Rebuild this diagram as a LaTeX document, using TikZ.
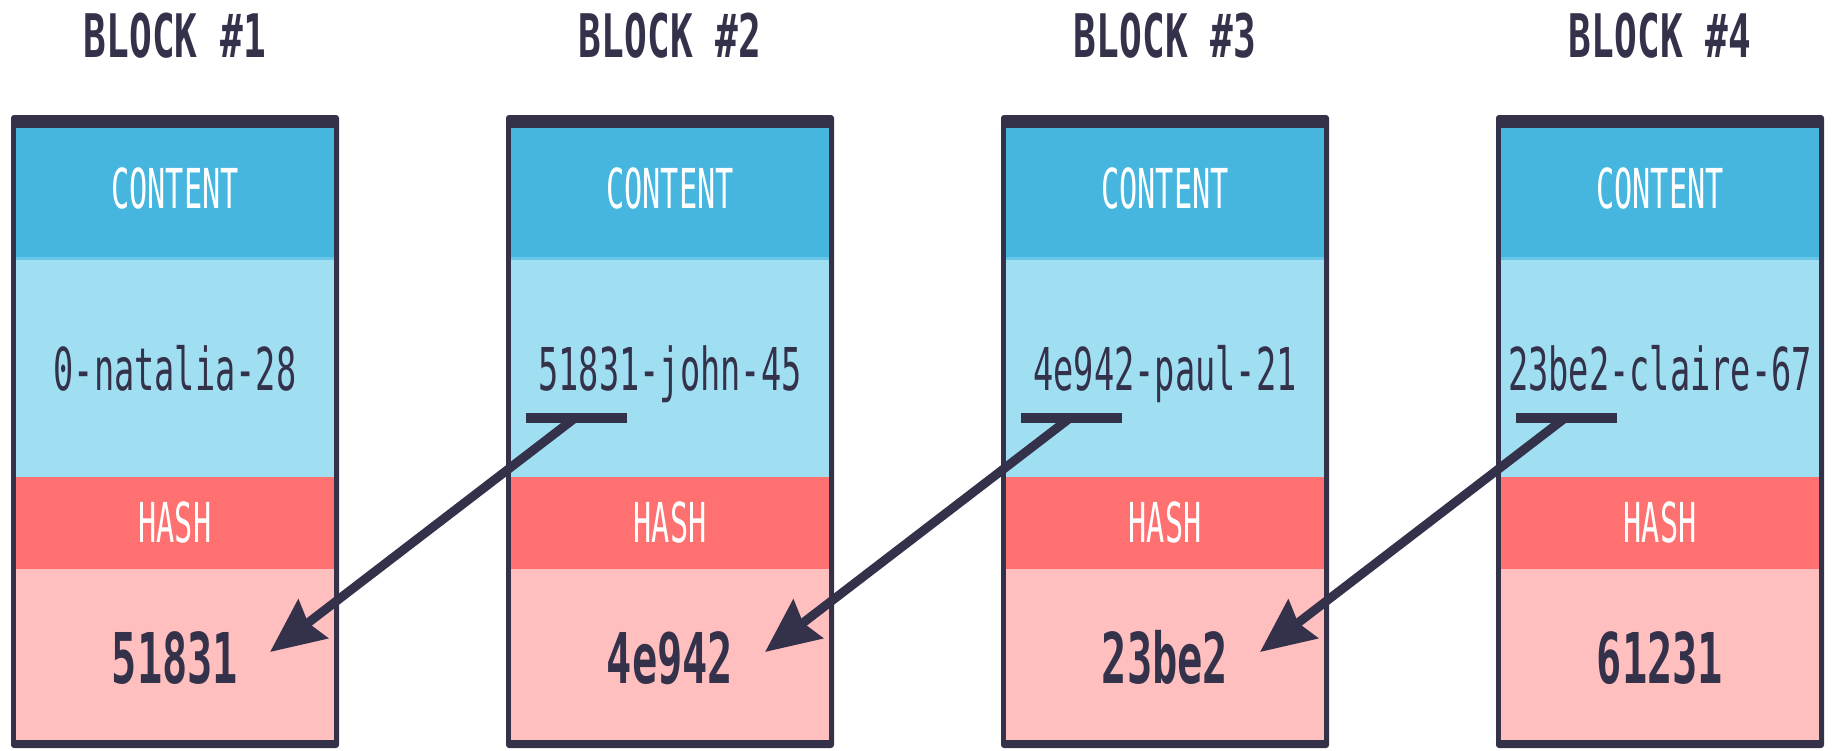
\documentclass[tikz,border=0pt]{standalone}
\usepackage{fontspec}
\usepackage{xcolor}
\usepackage{tikz}
\usetikzlibrary{positioning, arrows.meta}

\newfontfamily\titlefont[FakeStretch=0.63]{DejaVu Sans Mono}
\newfontfamily\datafont[FakeStretch=0.57]{DejaVu Sans Mono}
\newfontfamily\labelfont[FakeStretch=0.55]{DejaVu Sans Mono}
\newfontfamily\hashfont[FakeStretch=0.6]{DejaVu Sans Mono}

\definecolor{navy}{RGB}{52,49,74}
\definecolor{headblue}{RGB}{71,182,223}
\definecolor{stripeblue}{RGB}{104,198,232}
\definecolor{lightblue}{RGB}{160,223,242}
\definecolor{hashred}{RGB}{255,112,112}
\definecolor{hashpink}{RGB}{255,191,191}

\begin{document}
\begin{tikzpicture}[x=1pt, y=-1pt,
    blockframe/.style={fill=navy, rounded corners=3pt, minimum width=328pt, minimum height=633pt, inner sep=0pt, outer sep=0pt, anchor=north},
    cell/.style={minimum width=318pt, inner sep=0pt, outer sep=0pt, anchor=north},
    blocktitle/.style={anchor=base, text=navy, font=\titlefont\bfseries\fontsize{60}{60}\selectfont},
    labeltext/.style={anchor=base, text=white, font=\labelfont\fontsize{55}{55}\selectfont},
    datatext/.style={anchor=base, text=navy, font=\datafont\fontsize{59}{59}\selectfont},
    hashtext/.style={anchor=base, text=navy, font=\hashfont\bfseries\fontsize{70}{70}\selectfont},
    pointerbar/.style={navy, line width=10pt},
    pointer/.style={navy, line width=9pt, -{Stealth[length=54pt, width=48pt, inset=6pt]}}]

    \useasboundingbox (0,0) rectangle (1833,750);

    % Les blocs
    \foreach \i/\contenttext/\hashval in {1/0-natalia-28/51831, 2/51831-john-45/4e942, 3/4e942-paul-21/23be2, 4/23be2-claire-67/61231}{
        \pgfmathsetmacro{\cx}{175+495*(\i-1)}
        \node[blocktitle] (title\i) at (\cx,57) {BLOCK \#\i};
        \node[blockframe] (frame\i) at (\cx,115) {};
        \node[cell, fill=headblue, minimum height=132pt] (head\i) at (\cx,128) {};
        \node[cell, fill=lightblue, minimum height=217pt, below=0pt of head\i] (content\i) {};
        \node[cell, fill=hashred, minimum height=92pt, below=0pt of content\i] (hashhead\i) {};
        \node[cell, fill=hashpink, minimum height=171pt, below=0pt of hashhead\i] (hash\i) {};
        \draw[stripeblue, line width=3pt] ([yshift=1.5pt]head\i.south west) -- ([yshift=1.5pt]head\i.south east);
        \node[labeltext] (clabel\i) at (\cx,208) {CONTENT};
        \node[datatext] (ctext\i) at (\cx,390) {\contenttext};
        \node[labeltext] (hlabel\i) at (\cx,542) {HASH};
        \node[hashtext] (htext\i) at (\cx,683) {\hashval};
    }

    % Les pointeurs vers le hash precedent
    \foreach \i/\j in {2/1, 3/2, 4/3}{
        \pgfmathsetmacro{\bx}{11+495*(\i-1)}
        \pgfmathsetmacro{\px}{11+495*(\j-1)}
        \coordinate (barL\i) at (\bx+20,418);
        \coordinate (barR\i) at (\bx+121,418);
        \coordinate (ptr\i) at (\bx+69,418);
        \coordinate (tip\j) at (\px+259,652);
        \draw[pointerbar] (barL\i) -- (barR\i);
        \draw[pointer] (ptr\i) -- (tip\j);
    }

\end{tikzpicture}
\end{document}
